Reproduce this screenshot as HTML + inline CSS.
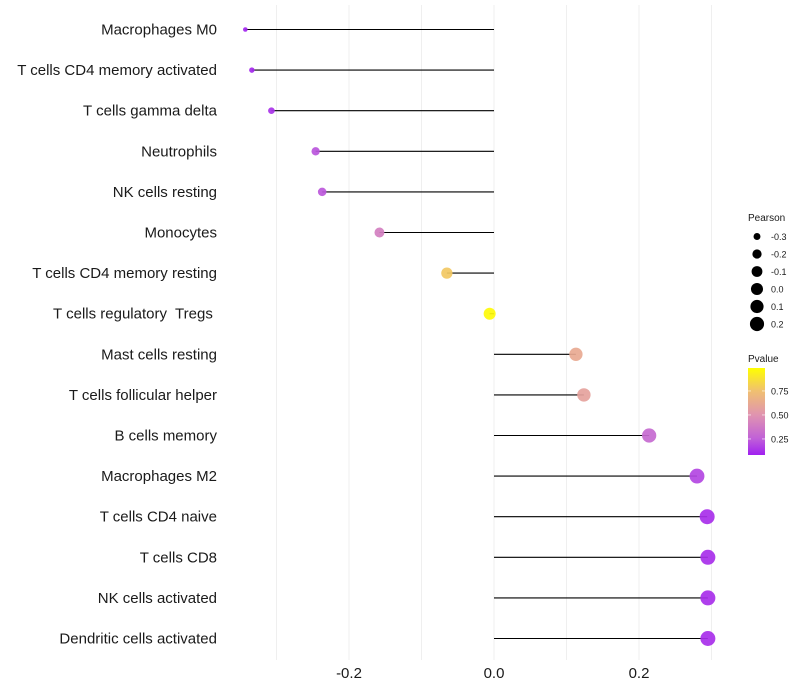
<!DOCTYPE html>
<html><head><meta charset="utf-8"><style>
html,body{margin:0;padding:0;background:#fff;}
svg{display:block;font-family:"Liberation Sans",Arial,sans-serif;}
text{white-space:pre;}
</style></head><body>
<svg id="chart" width="800" height="700"></svg>
<script>
const categories = ["Macrophages M0","T cells CD4 memory activated","T cells gamma delta","Neutrophils","NK cells resting","Monocytes","T cells CD4 memory resting","T cells regulatory  Tregs ","Mast cells resting","T cells follicular helper","B cells memory","Macrophages M2","T cells CD4 naive","T cells CD8","NK cells activated","Dendritic cells activated"];
const pearson = [-0.343,-0.334,-0.307,-0.246,-0.237,-0.158,-0.065,-0.006,0.113,0.124,0.214,0.280,0.294,0.295,0.295,0.295];
const pvalue = [0.09,0.10,0.13,0.22,0.23,0.40,0.78,0.98,0.62,0.58,0.30,0.18,0.12,0.12,0.12,0.12];
const xTicks = [-0.2,0.0,0.2];
const xMinor = [-0.3,-0.1,0.1,0.3];
const xTickLabels = ["-0.2","0.0","0.2"];
const sizeLegend = [-0.3,-0.2,-0.1,0.0,0.1,0.2];
const sizeLegendLabels = ["-0.3","-0.2","-0.1","0.0","0.1","0.2"];
const pLegend = [0.25,0.5,0.75];
const pLegendLabels = ["0.25","0.50","0.75"];

const NS="http://www.w3.org/2000/svg";
const svg=document.getElementById('chart');
function mk(t,a,p){const e=document.createElementNS(NS,t);for(const k in a)e.setAttribute(k,a[k]);(p||svg).appendChild(e);return e;}
const x=v=>494+v*725;
const y=i=>29.5+i*40.6;
const r=v=>2+5.5*Math.sqrt(Math.max(0,(v+0.345)/0.64));
const stops=[[0.08,[160,32,240]],[0.25,[192,96,216]],[0.5,[224,148,176]],[0.75,[240,192,112]],[1.0,[255,255,0]]];
function col(p){
  if(p<=stops[0][0])return 'rgb('+stops[0][1]+')';
  for(let i=1;i<stops.length;i++){if(p<=stops[i][0]){const a=stops[i-1],b=stops[i];const t=(p-a[0])/(b[0]-a[0]);return 'rgb('+a[1].map((c,j)=>Math.round(c+(b[1][j]-c)*t)).join(',')+')';}}
  return 'rgb(255,255,0)';
}
xMinor.concat(xTicks).forEach(v=>{
  const g=mk('line',{x1:x(v),x2:x(v),y1:5,y2:660,stroke:'#efefef','stroke-width':1});
  
  
});
xTicks.forEach((v,i)=>{
  const t=mk('text',{x:x(v),y:678,'text-anchor':'middle','font-size':15,fill:'#1a1a1a'});
  t.textContent=xTickLabels[i];
  
  
});
categories.forEach((c,i)=>{
  const t=mk('text',{x:217,y:y(i)+5,'text-anchor':'end','font-size':15,fill:'#1a1a1a'});
  t.textContent=c;
  
  
  const l=mk('line',{x1:x(0),x2:x(pearson[i]),y1:y(i),y2:y(i),stroke:'#000','stroke-width':1.1});
  
  
  const d=mk('circle',{cx:x(pearson[i]),cy:y(i),r:r(pearson[i]),fill:col(pvalue[i]),'fill-opacity':0.92});
  
  
});
const lt=mk('text',{x:748,y:221,'font-size':10,fill:'#1a1a1a'});lt.textContent='Pearson';


sizeLegend.forEach((v,i)=>{
  const cy=236.5+i*17.5;
  const c=mk('circle',{cx:757,cy:cy,r:r(v),fill:'#000'});
  
  
  const t=mk('text',{x:771,y:cy+3.5,'font-size':9,fill:'#1a1a1a'});t.textContent=sizeLegendLabels[i];
  
  
});
const pt=mk('text',{x:748,y:362,'font-size':10,fill:'#1a1a1a'});pt.textContent='Pvalue';


const defs=mk('defs',{});
const lg=mk('linearGradient',{id:'pg',x1:0,y1:1,x2:0,y2:0},defs);
stops.forEach(s=>mk('stop',{offset:(s[0]-0.08)/(0.99-0.08),'stop-color':col(s[0])},lg));
const bar=mk('rect',{x:748,y:368,width:17,height:87,fill:'url(#pg)'});


const py=p=>455-(p-0.083)*96;
pLegend.forEach((p,i)=>{
  mk('line',{x1:748,x2:751,y1:py(p),y2:py(p),stroke:'#fff','stroke-width':0.6});
  mk('line',{x1:762,x2:765,y1:py(p),y2:py(p),stroke:'#fff','stroke-width':0.6});
  const t=mk('text',{x:771,y:py(p)+3.5,'font-size':9,fill:'#1a1a1a'});t.textContent=pLegendLabels[i];
  
  
});
</script>
</body></html>
